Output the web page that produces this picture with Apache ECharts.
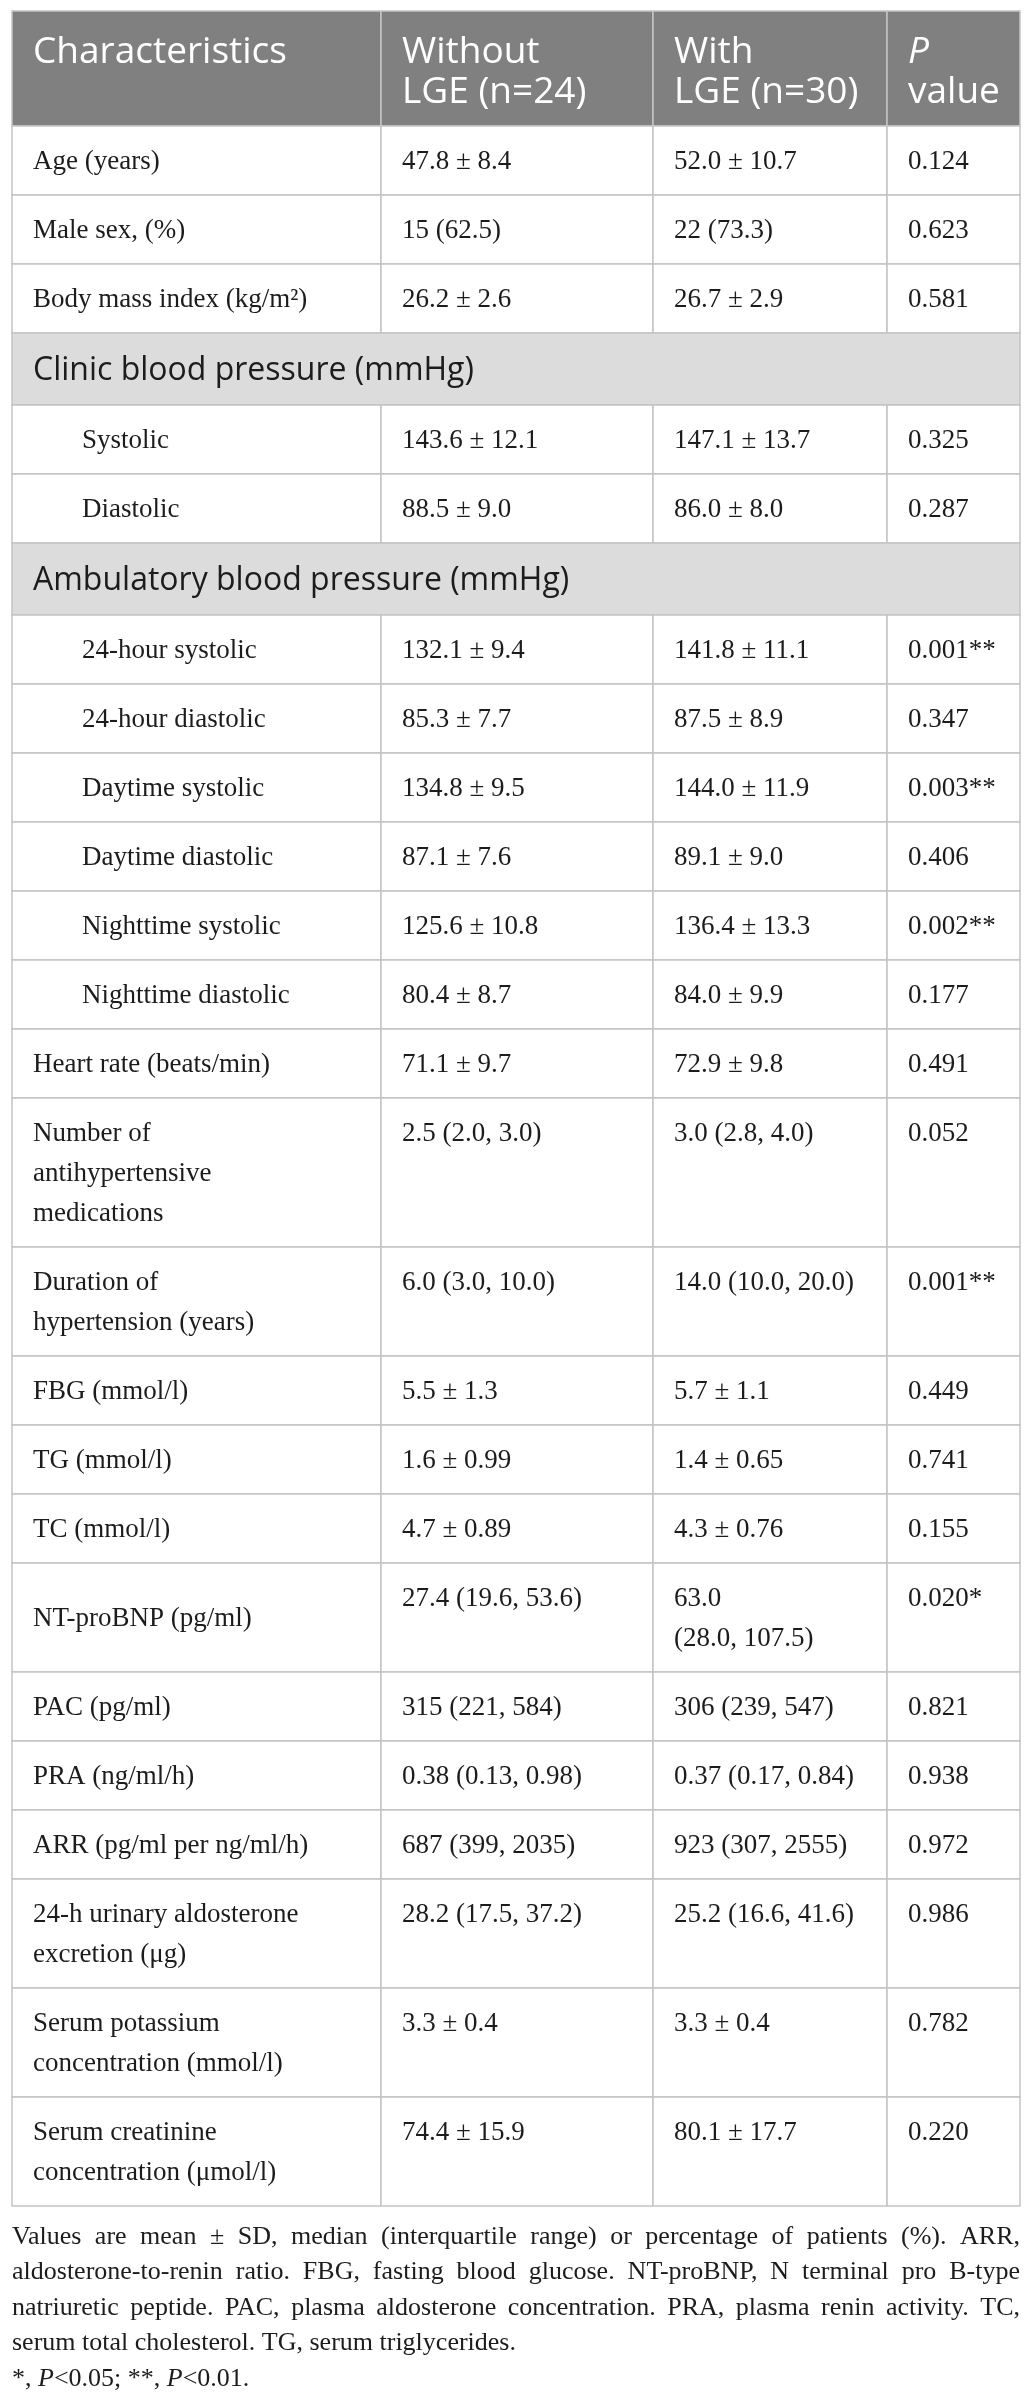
<!doctype html>
<html>
<head>
<meta charset="UTF-8">
<title>Characteristics with and without LGE</title>
<style>
  html, body { margin: 0; padding: 0; background: #fff; }
  #chart { width: 1026px; height: 2398px; }
</style>
</head>
<body>
<div id="chart"></div>
<script src="https://cdn.jsdelivr.net/npm/echarts@6/dist/echarts.min.js"></script>
<script>
// ---- table content ----
var headerLabels = ['Characteristics', 'Without\nLGE (n=24)', 'With\nLGE (n=30)', '{i|P}\nvalue'];

// row / section / sub (indented under a section)
var rowTypes = ['row', 'row', 'row',
  'section', 'sub', 'sub',
  'section', 'sub', 'sub', 'sub', 'sub', 'sub', 'sub',
  'row', 'row', 'row', 'row', 'row', 'row', 'row', 'row', 'row', 'row', 'row', 'row', 'row'];

var rowLabels = [
  'Age (years)', 'Male sex, (%)', 'Body mass index (kg/m\u00b2)',
  'Clinic blood pressure (mmHg)', 'Systolic', 'Diastolic',
  'Ambulatory blood pressure (mmHg)', '24-hour systolic', '24-hour diastolic',
  'Daytime systolic', 'Daytime diastolic', 'Nighttime systolic', 'Nighttime diastolic',
  'Heart rate (beats/min)', 'Number of\nantihypertensive\nmedications',
  'Duration of\nhypertension (years)', 'FBG (mmol/l)', 'TG (mmol/l)', 'TC (mmol/l)',
  'NT-proBNP (pg/ml)', 'PAC (pg/ml)', 'PRA (ng/ml/h)', 'ARR (pg/ml per ng/ml/h)',
  '24-h urinary aldosterone\nexcretion (\u03bcg)', 'Serum potassium\nconcentration (mmol/l)',
  'Serum creatinine\nconcentration (\u03bcmol/l)'
];

var withoutLGE = [
  '47.8 \u00b1 8.4', '15 (62.5)', '26.2 \u00b1 2.6',
  null, '143.6 \u00b1 12.1', '88.5 \u00b1 9.0',
  null, '132.1 \u00b1 9.4', '85.3 \u00b1 7.7', '134.8 \u00b1 9.5', '87.1 \u00b1 7.6',
  '125.6 \u00b1 10.8', '80.4 \u00b1 8.7',
  '71.1 \u00b1 9.7', '2.5 (2.0, 3.0)', '6.0 (3.0, 10.0)', '5.5 \u00b1 1.3',
  '1.6 \u00b1 0.99', '4.7 \u00b1 0.89', '27.4 (19.6, 53.6)', '315 (221, 584)',
  '0.38 (0.13, 0.98)', '687 (399, 2035)', '28.2 (17.5, 37.2)', '3.3 \u00b1 0.4',
  '74.4 \u00b1 15.9'
];

var withLGE = [
  '52.0 \u00b1 10.7', '22 (73.3)', '26.7 \u00b1 2.9',
  null, '147.1 \u00b1 13.7', '86.0 \u00b1 8.0',
  null, '141.8 \u00b1 11.1', '87.5 \u00b1 8.9', '144.0 \u00b1 11.9', '89.1 \u00b1 9.0',
  '136.4 \u00b1 13.3', '84.0 \u00b1 9.9',
  '72.9 \u00b1 9.8', '3.0 (2.8, 4.0)', '14.0 (10.0, 20.0)', '5.7 \u00b1 1.1',
  '1.4 \u00b1 0.65', '4.3 \u00b1 0.76', '63.0\n(28.0, 107.5)', '306 (239, 547)',
  '0.37 (0.17, 0.84)', '923 (307, 2555)', '25.2 (16.6, 41.6)', '3.3 \u00b1 0.4',
  '80.1 \u00b1 17.7'
];

var pValues = [
  '0.124', '0.623', '0.581',
  null, '0.325', '0.287',
  null, '0.001**', '0.347', '0.003**', '0.406', '0.002**', '0.177',
  '0.491', '0.052', '0.001**', '0.449', '0.741', '0.155', '0.020*', '0.821',
  '0.938', '0.972', '0.986', '0.782', '0.220'
];

var footnoteLines = [
  'Values are mean \u00b1 SD, median (interquartile range) or percentage of patients (%). ARR,',
  'aldosterone-to-renin ratio. FBG, fasting blood glucose. NT-proBNP, N terminal pro B-type',
  'natriuretic peptide. PAC, plasma aldosterone concentration. PRA, plasma renin activity. TC,',
  'serum total cholesterol. TG, serum triglycerides.',
  '*, {i|P}<0.05; **, {i|P}<0.01.'
];
var footnoteJustified = [true, true, true, false, false];

// ---- layout ----
var W = 1026, H = 2398;
var colEdges = [12, 381, 653, 887, 1020];
var tableTop = 11;
var headerHeight = 115;
var baseRow = 69, lineStep = 40, sectionRow = 72;
var textPad = 21, indent = 50;
var serif = 'Liberation Serif', sans = 'Open Sans';
var bodySize = 27, headSize = 37, sectionSize = 32, footSize = 26;
var textColor = '#1c1c1c', headerFill = '#808080', sectionFill = '#dcdcdc', borderColor = '#c4c4c4';
var footTop = 2237, footStep = 35.5;

function lineCount(s) {
  return s ? s.split('\n').length : 1;
}

// cumulative row positions from line counts
var tableData = [[-1, tableTop, tableTop + headerHeight]];
var yCursor = tableTop + headerHeight;
for (var i = 0; i < rowLabels.length; i++) {
  var h;
  if (rowTypes[i] === 'section') {
    h = sectionRow;
  } else {
    var n = Math.max(lineCount(rowLabels[i]), lineCount(withoutLGE[i]),
      lineCount(withLGE[i]), lineCount(pValues[i]));
    h = baseRow + (n - 1) * lineStep;
  }
  tableData.push([i, yCursor, yCursor + h]);
  yCursor += h;
}

function cellRect(api, x0, x1, y0, y1, fill) {
  var p0 = api.coord([x0, y0]);
  var p1 = api.coord([x1, y1]);
  return {
    type: 'rect',
    shape: { x: p0[0], y: p0[1], width: p1[0] - p0[0], height: p1[1] - p0[1] },
    style: { fill: fill, stroke: borderColor, lineWidth: 1.5 }
  };
}

function cellText(api, x, y, text, family, size, color, vAlign) {
  var p = api.coord([x, y]);
  return {
    type: 'text',
    x: p[0],
    y: p[1],
    style: {
      text: text,
      fontFamily: family,
      fontSize: size,
      fill: color,
      align: 'left',
      verticalAlign: vAlign,
      lineHeight: lineStep,
      rich: {
        i: { fontStyle: 'italic', fontFamily: family, fontSize: size, fill: color, lineHeight: lineStep }
      }
    }
  };
}

function renderTable(params, api) {
  var idx = api.value(0);
  var y0 = api.value(1), y1 = api.value(2);
  var children = [];
  var c;
  if (idx === -1) {
    for (c = 0; c < 4; c++) {
      children.push(cellRect(api, colEdges[c], colEdges[c + 1], y0, y1, headerFill));
    }
    for (c = 0; c < 4; c++) {
      children.push(cellText(api, colEdges[c] + textPad, y0 + 21, headerLabels[c], sans, headSize, '#ffffff', 'top'));
    }
    return { type: 'group', children: children };
  }
  if (rowTypes[idx] === 'section') {
    children.push(cellRect(api, colEdges[0], colEdges[4], y0, y1, sectionFill));
    children.push(cellText(api, colEdges[0] + textPad, (y0 + y1) / 2 + 1.5, rowLabels[idx], sans, sectionSize, textColor, 'middle'));
    return { type: 'group', children: children };
  }
  for (c = 0; c < 4; c++) {
    children.push(cellRect(api, colEdges[c], colEdges[c + 1], y0, y1, '#ffffff'));
  }
  var labelX = colEdges[0] + textPad + (rowTypes[idx] === 'sub' ? indent - textPad + 20 : 0);
  children.push(cellText(api, labelX, (y0 + y1) / 2 + 1.5, rowLabels[idx], serif, bodySize, textColor, 'middle'));
  var values = [withoutLGE[idx], withLGE[idx], pValues[idx]];
  for (c = 0; c < 3; c++) {
    children.push(cellText(api, colEdges[c + 1] + textPad, y0 + 16, values[c], serif, bodySize, textColor, 'top'));
  }
  return { type: 'group', children: children };
}

var measureCtx = document.createElement('canvas').getContext('2d');
measureCtx.font = footSize + 'px "' + serif + '"';

function renderFootnote(params, api) {
  var i = api.value(0);
  var y = footTop + i * footStep;
  var children = [];
  var text = footnoteLines[i];
  if (footnoteJustified[i]) {
    var words = text.split(' ');
    var widths = words.map(function (w) { return measureCtx.measureText(w).width; });
    var total = widths.reduce(function (a, b) { return a + b; }, 0);
    var gap = (colEdges[4] - colEdges[0] - total) / (words.length - 1);
    var x = colEdges[0];
    for (var k = 0; k < words.length; k++) {
      children.push(cellText(api, x, y, words[k], serif, footSize, textColor, 'middle'));
      x += widths[k] + gap;
    }
  } else {
    children.push(cellText(api, colEdges[0], y, text, serif, footSize, textColor, 'middle'));
  }
  return { type: 'group', children: children };
}

var chart = echarts.init(document.getElementById('chart'));
chart.setOption({
  backgroundColor: '#ffffff',
  animation: false,
  grid: { left: 0, right: 0, top: 0, bottom: 0 },
  xAxis: { type: 'value', min: 0, max: W, show: false },
  yAxis: { type: 'value', min: 0, max: H, inverse: true, show: false },
  series: [{
    type: 'custom',
    name: 'table',
    silent: true,
    clip: false,
    renderItem: renderTable,
    encode: { x: -1, y: 1 },
    data: tableData
  }, {
    type: 'custom',
    name: 'footnote',
    silent: true,
    clip: false,
    renderItem: renderFootnote,
    encode: { x: -1, y: 1 },
    data: footnoteLines.map(function (t, i) { return [i, footTop + i * footStep]; })
  }]
});
</script>
</body>
</html>
